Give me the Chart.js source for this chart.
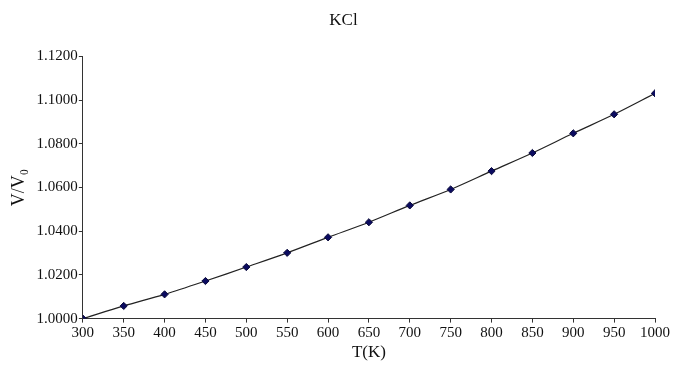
<!DOCTYPE html>
<html>
<head>
<meta charset="utf-8">
<script src="https://cdn.jsdelivr.net/npm/chart.js@4/dist/chart.umd.min.js"></script>
<style>
  html, body { margin: 0; padding: 0; background: #fff; }
  #wrap { width: 677px; height: 367px; }
</style>
</head>
<body>
<div id="wrap"><canvas id="kclChart" width="677" height="367"></canvas></div>
<script>
// Temperature (K) and relative volume V/V0 for KCl
const temps = [300, 350, 400, 450, 500, 550, 600, 650, 700, 750, 800, 850, 900, 950, 1000];
const volRatio = [1.0000, 1.0058, 1.0111, 1.0172, 1.0236, 1.0301, 1.0372, 1.0441,
                  1.0518, 1.0591, 1.0675, 1.0758, 1.0848, 1.0935, 1.1031];
const yTicks = [1.0000, 1.0200, 1.0400, 1.0600, 1.0800, 1.1000, 1.1200];
const xTicks = [300, 350, 400, 450, 500, 550, 600, 650, 700, 750, 800, 850, 900, 950, 1000];

const serif = "'Liberation Serif', 'DejaVu Serif', serif";

// title sits a bit right of the canvas centre in the original
const titleShift = {
    id: 'titleShift',
    afterLayout: function (chart) {
        if (chart.titleBlock) {
            chart.titleBlock.left += 12;
            chart.titleBlock.right += 12;
        }
    }
};

document.addEventListener('DOMContentLoaded', function () {
    const ctx = document.getElementById('kclChart').getContext('2d');

    new Chart(ctx, {
        type: 'line',
        data: {
            datasets: [{
                data: temps.map((t, i) => ({ x: t, y: volRatio[i] })),
                borderColor: '#222222',
                borderWidth: 1.2,
                tension: 0.3,
                pointStyle: 'rectRot',
                pointRadius: 3.6,
                pointBackgroundColor: '#0b0b60',
                pointBorderColor: '#0a0a3a',
                pointBorderWidth: 1,
                fill: false
            }]
        },
        options: {
            responsive: false,
            animation: false,
            layout: { padding: { left: 8, right: 22, top: 0, bottom: 4 } },
            plugins: {
                legend: { display: false },
                tooltip: { enabled: false },
                title: {
                    display: true,
                    text: 'KCl',
                    color: '#111',
                    font: { family: serif, size: 17, weight: 'normal' },
                    padding: { top: 10, bottom: 26 }
                }
            },
            scales: {
                x: {
                    type: 'linear',
                    min: 300,
                    max: 1000,
                    afterBuildTicks: function (axis) {
                        axis.ticks = xTicks.map(v => ({ value: v }));
                    },
                    grid: {
                        drawOnChartArea: false,
                        color: '#333',
                        tickLength: 4
                    },
                    border: { color: '#333', width: 1 },
                    ticks: {
                        color: '#111',
                        padding: 1,
                        maxRotation: 0,
                        font: { family: serif, size: 15 },
                        callback: function (value) {
                            return String(value);
                        }
                    },
                    title: {
                        display: true,
                        text: 'T(K)',
                        color: '#111',
                        padding: { top: 0, bottom: 0 },
                        font: { family: serif, size: 17 }
                    }
                },
                y: {
                    min: 1.0,
                    max: 1.12,
                    afterBuildTicks: function (axis) {
                        axis.ticks = yTicks.map(v => ({ value: v }));
                    },
                    grid: {
                        drawOnChartArea: false,
                        color: '#333',
                        tickLength: 4
                    },
                    border: { color: '#333', width: 1 },
                    ticks: {
                        color: '#111',
                        padding: 1,
                        font: { family: serif, size: 15 },
                        callback: function (value) {
                            return value.toFixed(4);
                        }
                    },
                    title: {
                        display: true,
                        text: 'V/V₀',
                        color: '#111',
                        padding: { top: 0, bottom: 6 },
                        font: { family: serif, size: 18 }
                    }
                }
            }
        },
        plugins: [titleShift]
    });
});
</script>
</body>
</html>
